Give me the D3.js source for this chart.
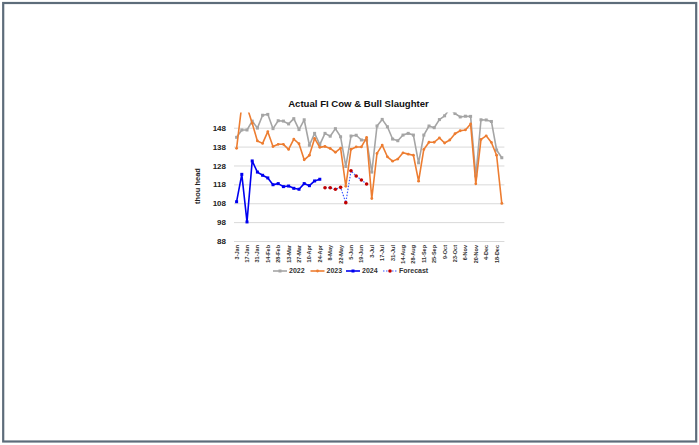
<!DOCTYPE html>
<html>
<head>
<meta charset="utf-8">
<script src="https://cdn.jsdelivr.net/npm/d3@7"></script>
<style>
  body { margin: 0; background: #fff; }
  svg { display: block; font-family: "Liberation Sans", Arial, sans-serif; }
</style>
</head>
<body>
<div class="canvas"></div>
<script>
// week labels (52 weeks)
const weeks = ["3-Jan", "10-Jan", "17-Jan", "24-Jan", "31-Jan", "7-Feb", "14-Feb", "21-Feb", "28-Feb",
  "6-Mar", "13-Mar", "20-Mar", "27-Mar", "3-Apr", "10-Apr", "17-Apr", "24-Apr", "1-May", "8-May",
  "15-May", "22-May", "29-May", "5-Jun", "12-Jun", "19-Jun", "26-Jun", "3-Jul", "10-Jul", "17-Jul",
  "24-Jul", "31-Jul", "7-Aug", "14-Aug", "21-Aug", "28-Aug", "4-Sep", "11-Sep", "18-Sep", "25-Sep",
  "2-Oct", "9-Oct", "16-Oct", "23-Oct", "30-Oct", "6-Nov", "13-Nov", "20-Nov", "27-Nov", "4-Dec",
  "11-Dec", "18-Dec", "25-Dec"];

const y2022 = [142.9, 146.8, 146.8, 151.5, 147.8, 154.6, 155.1, 147.5, 151.7, 151.5, 150, 152.8, 147,
  152.2, 138.7, 145, 139, 145, 143.5, 147.5, 143.2, 127.5, 143.6, 144, 141.5, 141.5,
  124.5, 148.9, 152.4, 148.5, 142, 141.1, 144.1, 145, 144.1, 129.4, 144.1, 148.9, 148,
  152.3, 154.3, 158, 155.5, 153.7, 154.1, 154, 122.5, 152.2, 152.1, 151.3, 136.2, 132.1];

const y2023 = [137.1, 160, 159, 150.3, 141, 139.7, 145.9, 138, 139.2, 139.2, 136.5, 142, 139.5,
  131, 133.4, 142.3, 137.6, 138.1, 137, 135, 137.2, 117, 136.6, 137.8, 137.8, 142.8,
  110.5, 134.4, 138.8, 132.6, 130.3, 131.4, 134.7, 134, 133.4, 119.7, 136.5, 140.3, 140.3,
  142.6, 139.9, 141.5, 144.8, 146.4, 146.8, 150, 118.3, 141.8, 143.7, 140.2, 133.4, 107.9];

const y2024 = [108.8, 123.3, 98.1, 130.4, 124.5, 122.8, 121.4, 117.8, 118.4, 116.8, 117.1, 115.9,
  115.4, 118.4, 117.3, 119.8, 120.7];

const forecastWeeks = ["1-May", "8-May", "15-May", "22-May", "29-May", "5-Jun", "12-Jun", "19-Jun", "26-Jun"];
const forecast = [116.2, 116.2, 115.4, 116.4, 108.3, 125.2, 122.4, 120.3, 118.2];

const yTicks = [88, 98, 108, 118, 128, 138, 148];
const xTicks = weeks.filter((d, i) => i % 2 === 0);

const W = 699, H = 445;
const svg = d3.select(".canvas").append("svg")
  .attr("width", W)
  .attr("height", H);

// page frame
svg.append("rect")
  .attr("x", 3.2).attr("y", 3)
  .attr("width", 693).attr("height", 438.5)
  .attr("fill", "none")
  .attr("stroke", "#5d6c7a")
  .attr("stroke-width", 2.2);

const pLeft = 234, pRight = 504.4, pTop = 112.6, pBottom = 241;

const x = d3.scaleBand().domain(weeks).range([pLeft, pRight]);
const y = d3.scaleLinear().domain([88, 156]).range([pBottom, pTop]);
const cx = d => x(d) + x.bandwidth() / 2;

// gridlines + y labels
const yAxis = svg.append("g")
  .attr("transform", `translate(${pLeft},0)`)
  .call(d3.axisLeft(y).tickValues(yTicks).tickSize(-(pRight - pLeft)).tickPadding(8));
yAxis.select(".domain").remove();
yAxis.selectAll("line").attr("stroke", "#d9d9d9").attr("stroke-width", 1);
yAxis.selectAll("text")
  .attr("font-size", 8).attr("font-weight", "bold").attr("fill", "#222")
  .attr("font-family", "Liberation Sans, Arial, sans-serif");

// x labels
const xAxis = svg.append("g")
  .attr("transform", `translate(0,${pBottom})`)
  .call(d3.axisBottom(x).tickValues(xTicks).tickSize(0));
xAxis.select(".domain").remove();
xAxis.selectAll("text")
  .attr("font-size", 5.5).attr("font-weight", "bold").attr("fill", "#333")
  .attr("font-family", "Liberation Sans, Arial, sans-serif")
  .attr("text-anchor", "end")
  .attr("transform", "rotate(-90)")
  .attr("x", -4).attr("y", 0).attr("dy", "0.35em");

// axis title
svg.append("text")
  .attr("transform", "translate(200,186) rotate(-90)")
  .attr("text-anchor", "middle")
  .attr("font-size", 7.5).attr("font-weight", "bold").attr("fill", "#222")
  .text("thou head");

// chart title
svg.append("text")
  .attr("x", 358.5).attr("y", 107)
  .attr("text-anchor", "middle")
  .attr("font-size", 9.6).attr("font-weight", "bold").attr("fill", "#111")
  .text("Actual FI Cow & Bull Slaughter");

svg.append("clipPath").attr("id", "plot")
  .append("rect")
  .attr("x", pLeft).attr("y", pTop)
  .attr("width", pRight - pLeft).attr("height", pBottom - pTop);

const plot = svg.append("g").attr("clip-path", "url(#plot)");

const series = [
  { name: "2022", keys: weeks, vals: y2022, color: "#a5a5a5", mark: "square", mcol: "#a5a5a5", dash: null },
  { name: "2023", keys: weeks, vals: y2023, color: "#ed7d31", mark: "circle", mcol: "#ed7d31", dash: null },
  { name: "2024", keys: weeks.slice(0, y2024.length), vals: y2024, color: "#0000f0", mark: "square", mcol: "#0000f0", dash: null },
  { name: "Forecast", keys: forecastWeeks, vals: forecast, color: "#3d5cff", mark: "circle", mcol: "#c00000", dash: "1.5,1.5" }
];

const line = d3.line().x(d => cx(d.k)).y(d => y(d.v));

series.forEach(s => {
  const pts = s.vals.map((v, i) => ({ k: s.keys[i], v: v }));
  plot.append("path")
    .datum(pts)
    .attr("fill", "none")
    .attr("stroke", s.color)
    .attr("stroke-width", s.dash ? 1.2 : 1.6)
    .attr("stroke-dasharray", s.dash)
    .attr("stroke-linejoin", "round")
    .attr("d", line);
  if (s.mark === "square") {
    plot.selectAll(null).data(pts).enter().append("rect")
      .attr("x", d => cx(d.k) - 1.5).attr("y", d => y(d.v) - 1.5)
      .attr("width", 3).attr("height", 3)
      .attr("fill", s.mcol);
  } else {
    plot.selectAll(null).data(pts).enter().append("circle")
      .attr("cx", d => cx(d.k)).attr("cy", d => y(d.v))
      .attr("r", s.dash ? 1.8 : 1.4)
      .attr("fill", s.mcol);
  }
});

// legend
const legendX = [273, 310.5, 346, 383];
const legend = svg.append("g");
series.forEach((s, i) => {
  const g = legend.append("g").attr("transform", `translate(${legendX[i]},271)`);
  g.append("line")
    .attr("x1", 0).attr("x2", 14).attr("y1", 0).attr("y2", 0)
    .attr("stroke", s.color)
    .attr("stroke-width", s.dash ? 1.2 : 1.6)
    .attr("stroke-dasharray", s.dash);
  if (s.mark === "square") {
    g.append("rect").attr("x", 5.5).attr("y", -1.5).attr("width", 3).attr("height", 3).attr("fill", s.mcol);
  } else {
    g.append("circle").attr("cx", 7).attr("cy", 0).attr("r", s.dash ? 1.8 : 1.4).attr("fill", s.mcol);
  }
  g.append("text")
    .attr("x", 16).attr("y", 0).attr("dy", "0.35em")
    .attr("font-size", 7).attr("font-weight", "bold").attr("fill", "#333")
    .text(s.name);
});
</script>
</body>
</html>
